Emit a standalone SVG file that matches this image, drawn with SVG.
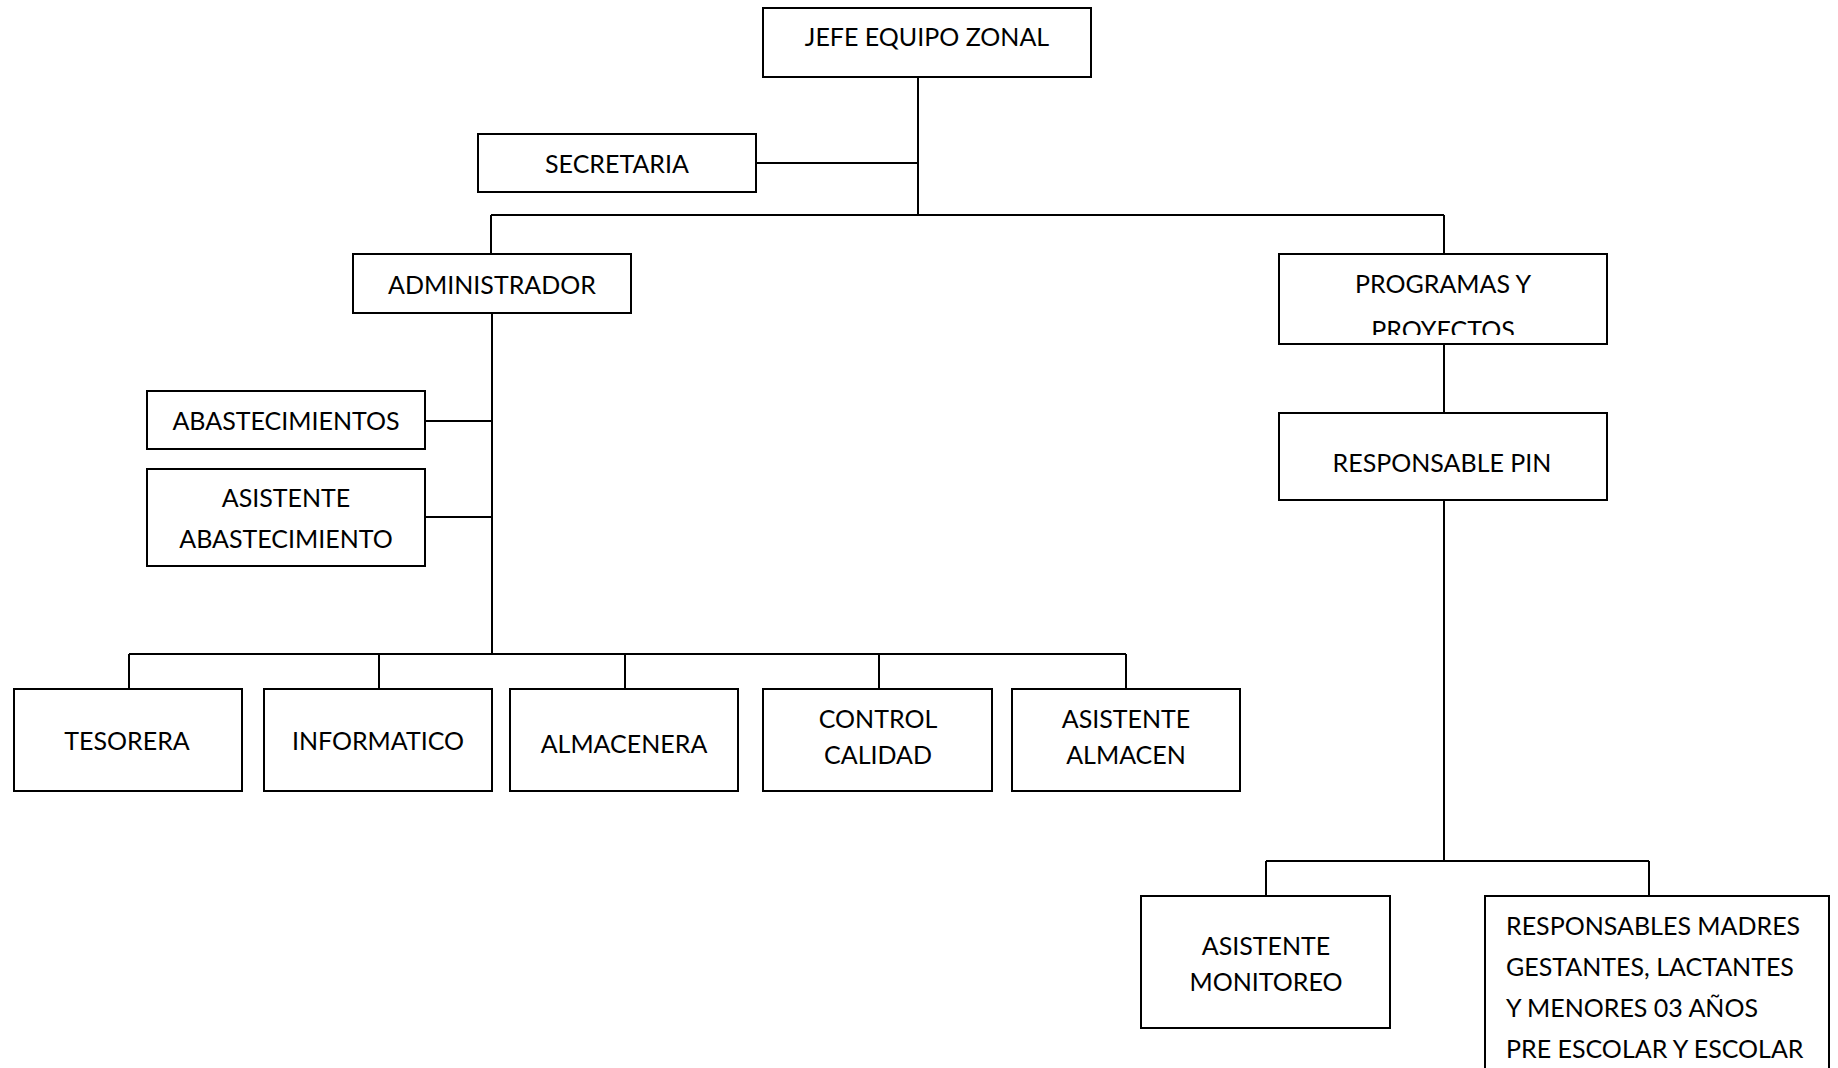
<svg xmlns="http://www.w3.org/2000/svg" width="1838" height="1068" viewBox="0 0 1838 1068">
<style>
.box{fill:#fff;stroke:#000;stroke-width:2}
.ln{stroke:#000;stroke-width:2;fill:none}
text{font-family:Lato,"Liberation Sans",sans-serif;font-size:25px;fill:#000}
.c{text-anchor:middle}
</style>
<defs>
<clipPath id="clipProg"><rect x="1279" y="254" width="328" height="81"/></clipPath>
</defs>
<g id="connectors">
<path class="ln" d="M918 77 V215"/>
<path class="ln" d="M756 163 H918"/>
<path class="ln" d="M491 215 H1444"/>
<path class="ln" d="M491 215 V254"/>
<path class="ln" d="M1444 215 V254"/>
<path class="ln" d="M492 313 V654"/>
<path class="ln" d="M425 421 H492"/>
<path class="ln" d="M425 517 H492"/>
<path class="ln" d="M129 654 H1126"/>
<path class="ln" d="M129 654 V689"/>
<path class="ln" d="M379 654 V689"/>
<path class="ln" d="M625 654 V689"/>
<path class="ln" d="M879 654 V689"/>
<path class="ln" d="M1126 654 V689"/>
<path class="ln" d="M1444 344 V413"/>
<path class="ln" d="M1444 500 V861"/>
<path class="ln" d="M1266 861 H1649"/>
<path class="ln" d="M1266 861 V896"/>
<path class="ln" d="M1649 861 V896"/>
</g>
<g id="jefe"><rect class="box" x="763" y="8" width="328" height="69"/><text class="c" x="927" y="46">JEFE EQUIPO ZONAL</text></g>
<g id="secretaria"><rect class="box" x="478" y="134" width="278" height="58"/><text class="c" x="617" y="173">SECRETARIA</text></g>
<g id="administrador"><rect class="box" x="353" y="254" width="278" height="59"/><text class="c" x="492" y="294">ADMINISTRADOR</text></g>
<g id="abastecimientos"><rect class="box" x="147" y="391" width="278" height="58"/><text class="c" x="286" y="430">ABASTECIMIENTOS</text></g>
<g id="asistente-abastecimiento"><rect class="box" x="147" y="469" width="278" height="97"/><text class="c" x="286" y="507">ASISTENTE</text><text class="c" x="286" y="548">ABASTECIMIENTO</text></g>
<g id="programas"><rect class="box" x="1279" y="254" width="328" height="90"/><text class="c" x="1443" y="293">PROGRAMAS Y</text><text class="c" x="1443" y="339" clip-path="url(#clipProg)">PROYECTOS</text></g>
<g id="responsable-pin"><rect class="box" x="1279" y="413" width="328" height="87"/><text class="c" x="1442" y="472">RESPONSABLE PIN</text></g>
<g id="tesorera"><rect class="box" x="14" y="689" width="228" height="102"/><text class="c" x="127" y="750">TESORERA</text></g>
<g id="informatico"><rect class="box" x="264" y="689" width="228" height="102"/><text class="c" x="378" y="750">INFORMATICO</text></g>
<g id="almacenera"><rect class="box" x="510" y="689" width="228" height="102"/><text class="c" x="624" y="753">ALMACENERA</text></g>
<g id="control-calidad"><rect class="box" x="763" y="689" width="229" height="102"/><text class="c" x="878" y="728">CONTROL</text><text class="c" x="878" y="764">CALIDAD</text></g>
<g id="asistente-almacen"><rect class="box" x="1012" y="689" width="228" height="102"/><text class="c" x="1126" y="728">ASISTENTE</text><text class="c" x="1126" y="764">ALMACEN</text></g>
<g id="asistente-monitoreo"><rect class="box" x="1141" y="896" width="249" height="132"/><text class="c" x="1266" y="955">ASISTENTE</text><text class="c" x="1266" y="991">MONITOREO</text></g>
<g id="responsables"><rect class="box" x="1485" y="896" width="344" height="190"/><text x="1506" y="935">RESPONSABLES MADRES</text><text x="1506" y="976">GESTANTES, LACTANTES</text><text x="1506" y="1017">Y MENORES 03 AÑOS</text><text x="1506" y="1058">PRE ESCOLAR Y ESCOLAR</text></g>
</svg>
